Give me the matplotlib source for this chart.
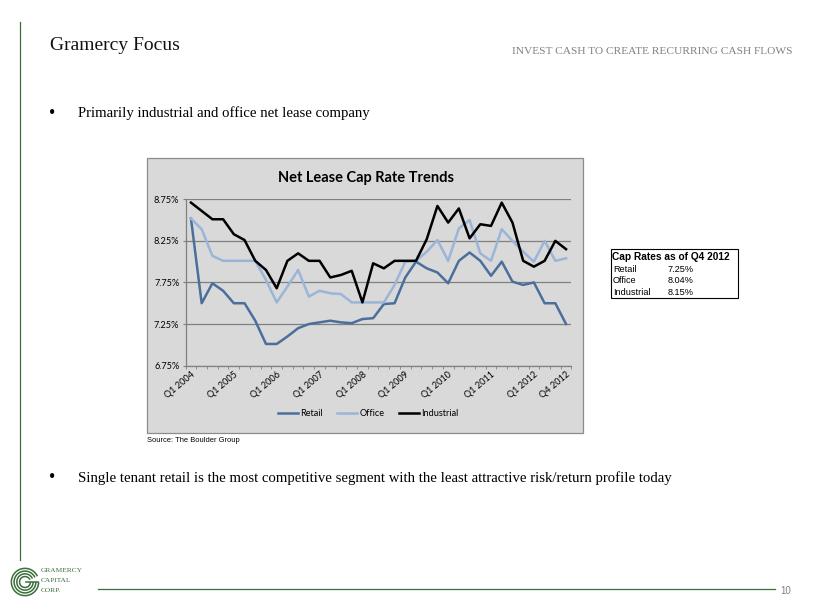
import matplotlib.pyplot as plt
import matplotlib.patches as patches
from matplotlib.lines import Line2D
import numpy as np

# quarterly cap rates (%), Q1 2004 .. Q4 2012
quarters = ["Q%d %d" % (q, y) for y in range(2004, 2013) for q in range(1, 5)]
retail = [8.52, 7.50, 7.74, 7.65, 7.50, 7.50, 7.29, 7.01, 7.01, 7.10, 7.20, 7.25,
          7.27, 7.29, 7.27, 7.26, 7.31, 7.32, 7.49, 7.50, 7.81, 8.00, 7.92, 7.87,
          7.74, 8.01, 8.11, 8.01, 7.83, 8.00, 7.76, 7.72, 7.75, 7.50, 7.50, 7.25]
office = [8.52, 8.39, 8.07, 8.01, 8.01, 8.01, 8.01, 7.78, 7.51, 7.70, 7.90, 7.58,
          7.65, 7.62, 7.61, 7.51, 7.51, 7.51, 7.51, 7.72, 8.00, 8.01, 8.12, 8.26,
          8.01, 8.40, 8.50, 8.10, 8.01, 8.39, 8.25, 8.12, 8.00, 8.25, 8.01, 8.04]
industrial = [8.71, 8.61, 8.51, 8.51, 8.33, 8.26, 8.01, 7.90, 7.68, 8.01, 8.10, 8.01,
              8.01, 7.81, 7.84, 7.89, 7.51, 7.98, 7.92, 8.01, 8.01, 8.01, 8.27, 8.67,
              8.47, 8.64, 8.28, 8.45, 8.43, 8.71, 8.47, 8.01, 7.94, 8.01, 8.25, 8.15]
label_idx = [0, 4, 8, 12, 16, 20, 24, 28, 32, 35]
yticks = [6.75, 7.25, 7.75, 8.25, 8.75]

table_rows = ["Retail", "Office", "Industrial"]
table_vals = ["7.25%", "8.04%", "8.15%"]

W, H = 820, 615
fig = plt.figure(figsize=(8.2, 6.15), dpi=100)


def fx(x):
    return x / W


def fy(y):
    return 1 - y / H


green = "#3b6e3b"
serif = "Liberation Serif"
sans = "Liberation Sans"

# slide frame
fig.add_artist(Line2D([fx(20), fx(20)], [fy(22), fy(560)], color=green, lw=0.9))
fig.add_artist(Line2D([fx(98), fx(775)], [fy(589), fy(589)], color=green, lw=0.9))

fig.text(fx(50), fy(45), "Gramercy Focus", family=serif, fontsize=14, va="center", color="#111111")
fig.text(fx(793), fy(52), "INVEST CASH TO CREATE RECURRING CASH FLOWS", family=serif,
         fontsize=8.2, color="#808080", ha="right", va="center")
fig.text(fx(49), fy(113), "\u2022", family=serif, fontsize=13, va="center")
fig.text(fx(78), fy(113), "Primarily industrial and office net lease company",
         family=serif, fontsize=10.6, va="center")
fig.text(fx(49), fy(478), "\u2022", family=serif, fontsize=13, va="center")
fig.text(fx(78), fy(478), "Single tenant retail is the most competitive segment with the "
         "least attractive risk/return profile today", family=serif, fontsize=10.6, va="center")
fig.text(fx(147), fy(441), "Source: The Boulder Group", family=sans, fontsize=5.4, va="center")
fig.text(fx(786), fy(591), "10", family=sans, fontsize=7, color="#808080", va="center", ha="center")

# chart box
box = patches.Rectangle((fx(147), fy(433)), fx(583 - 147), (433 - 158) / H,
                        facecolor="#d9d9d9", edgecolor="#8c8c8c", lw=0.9, zorder=-1)
fig.add_artist(box)
fig.text(fx(366), fy(178), "Net Lease Cap Rate Trends", family="Lato", fontweight="bold",
         fontsize=10.5, ha="center", va="center")

ax = fig.add_axes([fx(185.6), fy(365.6), fx(385.8), 166.3 / H])
ax.set_facecolor("none")
x = np.arange(len(quarters))
ax.plot(x, retail, color="#4a6f9b", lw=1.8, label="Retail")
ax.plot(x, office, color="#9ab5d8", lw=1.8, label="Office")
ax.plot(x, industrial, color="black", lw=1.8, label="Industrial")
ax.set_xlim(-0.5, 35.5)
ax.set_ylim(6.75, 8.75)
ax.set_yticks(yticks)
ax.set_yticklabels(["%.2f%%" % v for v in yticks], family="Lato", fontsize=6.6)
ax.yaxis.grid(True, color="#808080", lw=0.9)
ax.set_axisbelow(True)
ax.set_xticks(label_idx)
ax.set_xticklabels([quarters[i] for i in label_idx], rotation=40, ha="right",
                   rotation_mode="anchor", family="Lato", fontsize=6.6)
ax.tick_params(axis="x", length=0, pad=3)
ax.set_xticks(np.arange(-0.5, 36, 1), minor=True)
ax.tick_params(axis="x", which="minor", length=2.5, color="#808080")
ax.tick_params(axis="y", length=2.5, color="#808080", pad=2)
for s in ["top", "right"]:
    ax.spines[s].set_visible(False)
for s in ["left", "bottom"]:
    ax.spines[s].set_color("#808080")
    ax.spines[s].set_linewidth(0.9)
ax.legend(loc="center", bbox_to_anchor=(fx(368), fy(414)), bbox_transform=fig.transFigure,
          ncol=3, frameon=False, prop={"family": "Lato", "size": 6.6},
          handlelength=2.2, columnspacing=1.6, handletextpad=0.2)

# cap rate table
fig.add_artist(patches.Rectangle((fx(611), fy(298)), fx(738 - 611), (298 - 249) / H,
                                 facecolor="white", edgecolor="black", lw=0.8))
fig.text(fx(612), fy(257), "Cap Rates as of Q4 2012", family=sans, fontweight="bold",
         fontsize=7.3, va="center")
for k, (name, val) in enumerate(zip(table_rows, table_vals)):
    yy = 269.5 + 11.3 * k
    fig.text(fx(613), fy(yy), name, family=sans, fontsize=6.6, va="center")
    fig.text(fx(668), fy(yy), val, family=sans, fontsize=6.6, va="center")

# logo
lax = fig.add_axes([fx(10), fy(597), fx(30), 30 / H])
lax.set_xlim(-1.1, 1.1)
lax.set_ylim(-1.1, 1.1)
lax.set_aspect("equal")
lax.axis("off")
for r in [1.0, 0.8, 0.6, 0.4]:
    lax.add_patch(patches.Arc((0, 0), 2 * r, 2 * r, theta1=25, theta2=360, color=green, lw=1.1))
lax.plot([0.05, 0.95], [0.0, 0.0], color=green, lw=1.1)
fig.text(fx(41), fy(570), "GRAMERCY", family=serif, fontsize=5.3, color=green, va="center")
fig.text(fx(41), fy(580), "CAPITAL", family=serif, fontsize=5.3, color=green, va="center")
fig.text(fx(41), fy(590), "CORP.", family=serif, fontsize=5.3, color=green, va="center")

plt.savefig("out.png", dpi=100)
